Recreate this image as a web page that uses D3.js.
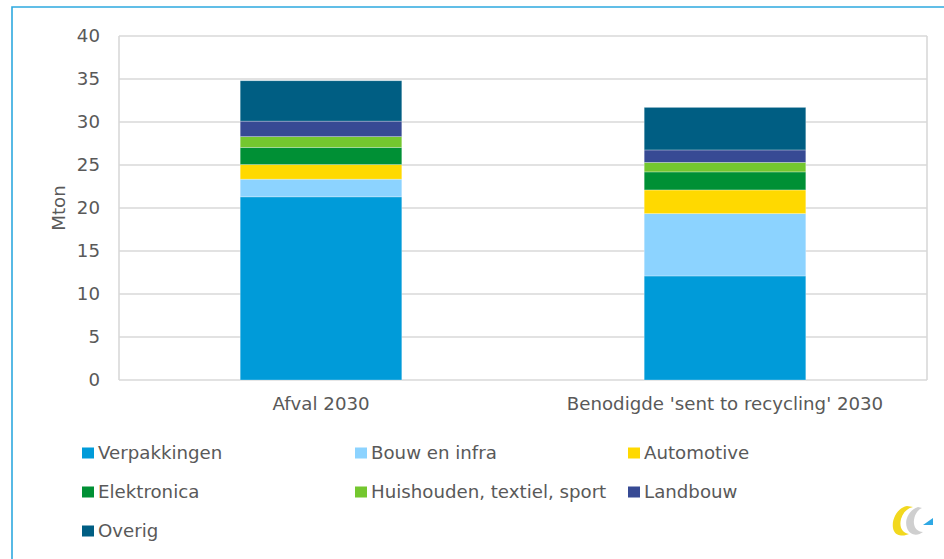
<!DOCTYPE html>
<html><head><meta charset="utf-8">
<script src="https://cdn.jsdelivr.net/npm/d3@7"></script>
<style>
html,body{margin:0;padding:0;background:#fff;}
svg{display:block;}
text{font-family:"DejaVu Sans",sans-serif;fill:#595959;}
</style></head>
<body>
<svg id="chart" width="944" height="559"></svg>
<script>
const categories = ["Afval 2030", "Benodigde 'sent to recycling' 2030"];
const seriesNames = ["Verpakkingen","Bouw en infra","Automotive","Elektronica","Huishouden, textiel, sport","Landbouw","Overig"];
const seriesColors = ["#009BD9","#8CD3FF","#FFD900","#009035","#74C72F","#374A94","#005E83"];
const verpakkingen = [21.3, 12.1];
const bouwInfra = [2.05, 7.25];
const automotive = [1.7, 2.75];
const elektronica = [2.0, 2.1];
const huishouden = [1.25, 1.1];
const landbouw = [1.8, 1.45];
const overig = [4.7, 4.95];
const yTicks = [0,5,10,15,20,25,30,35,40];

const seriesValues = [verpakkingen,bouwInfra,automotive,elektronica,huishouden,landbouw,overig];
const rows = categories.map((c,i)=>{
  const r = {cat:c};
  seriesNames.forEach((s,j)=>r[s]=seriesValues[j][i]);
  return r;
});

const FS = 18.2;
const svg = d3.select("#chart");
const L=119, R=927, T=36, B=380;

// outer frame (blue)
svg.append("path").attr("d","M12,559 L12,7 L944,7")
  .attr("fill","none").attr("stroke","#2EA9DF").attr("stroke-width",1.6);

const x = d3.scaleBand().domain(categories).range([L,R]).paddingInner(0.6).paddingOuter(0.3);
const y = d3.scaleLinear().domain([0,40]).range([B,T]);

// gridlines
svg.append("g").selectAll("line").data(yTicks).join("line")
  .attr("x1",L).attr("x2",R).attr("y1",d=>y(d)).attr("y2",d=>y(d))
  .attr("stroke","#D9D9D9").attr("stroke-width",1.6);
svg.append("line").attr("x1",L).attr("x2",L).attr("y1",T).attr("y2",B).attr("stroke","#D9D9D9").attr("stroke-width",1.6);
svg.append("line").attr("x1",R).attr("x2",R).attr("y1",T).attr("y2",B).attr("stroke","#D9D9D9").attr("stroke-width",1.6);

// y axis labels
const yAxis = d3.axisLeft(y).tickValues(yTicks).tickSize(0).tickPadding(0);
const ga = svg.append("g").attr("transform",`translate(${L-19},0)`).call(yAxis);
ga.select(".domain").remove();
ga.selectAll("text").attr("font-size",FS).attr("fill","#595959").attr("font-family","DejaVu Sans, sans-serif");

// x axis labels
const xAxis = d3.axisBottom(x).tickSize(0).tickPadding(0);
const gx = svg.append("g").attr("transform",`translate(0,${B+17})`).call(xAxis);
gx.select(".domain").remove();
gx.selectAll("text").attr("font-size",FS).attr("fill","#595959").attr("font-family","DejaVu Sans, sans-serif");

// y title
svg.append("text").attr("transform",`translate(65,${(T+B)/2}) rotate(-90)`)
  .attr("text-anchor","middle").attr("font-size",FS).text("Mton");

// stacks
const stack = d3.stack().keys(seriesNames)(rows);
svg.append("g").selectAll("g").data(stack).join("g")
  .attr("fill",(d,i)=>seriesColors[i])
  .selectAll("rect").data(d=>d).join("rect")
  .attr("x",d=>x(d.data.cat)).attr("width",x.bandwidth())
  .attr("y",d=>y(d[1])).attr("height",d=>y(d[0])-y(d[1]))
  .attr("stroke","rgba(255,255,255,0.35)").attr("stroke-width",0.8);

// legend
const legX = [82, 355, 628], legY = [453, 492, 531];
const leg = svg.append("g").selectAll("g").data(seriesNames).join("g")
  .attr("transform",(d,i)=>`translate(${legX[i%3]},${legY[Math.floor(i/3)]})`);
leg.append("rect").attr("x",0).attr("y",-5.5).attr("width",12).attr("height",11)
  .attr("fill",(d,i)=>seriesColors[i]);
leg.append("text").attr("x",16).attr("y",0).attr("dy","0.35em").attr("font-size",FS).text(d=>d);

// logo
const logo = svg.append("g").attr("transform","translate(892,506)");
logo.append("path").attr("d","M15,0 C4,2 -2,17 2,25 C5,31 13,30 17,28 C10,27 7,21 9,13 C11,6 16,2 21,1 Z").attr("fill","#F2D81E");
logo.append("path").attr("d","M26,1 C17,4 12,14 15,22 C18,30 26,30 31,26 C25,26 21,21 22,14 C23,7 27,3 30,2 Z").attr("fill","#CFCFCF");
logo.append("path").attr("d","M31,19 L41,12 L41,19 Z").attr("fill","#2FA8E4");
</script>
</body></html>
